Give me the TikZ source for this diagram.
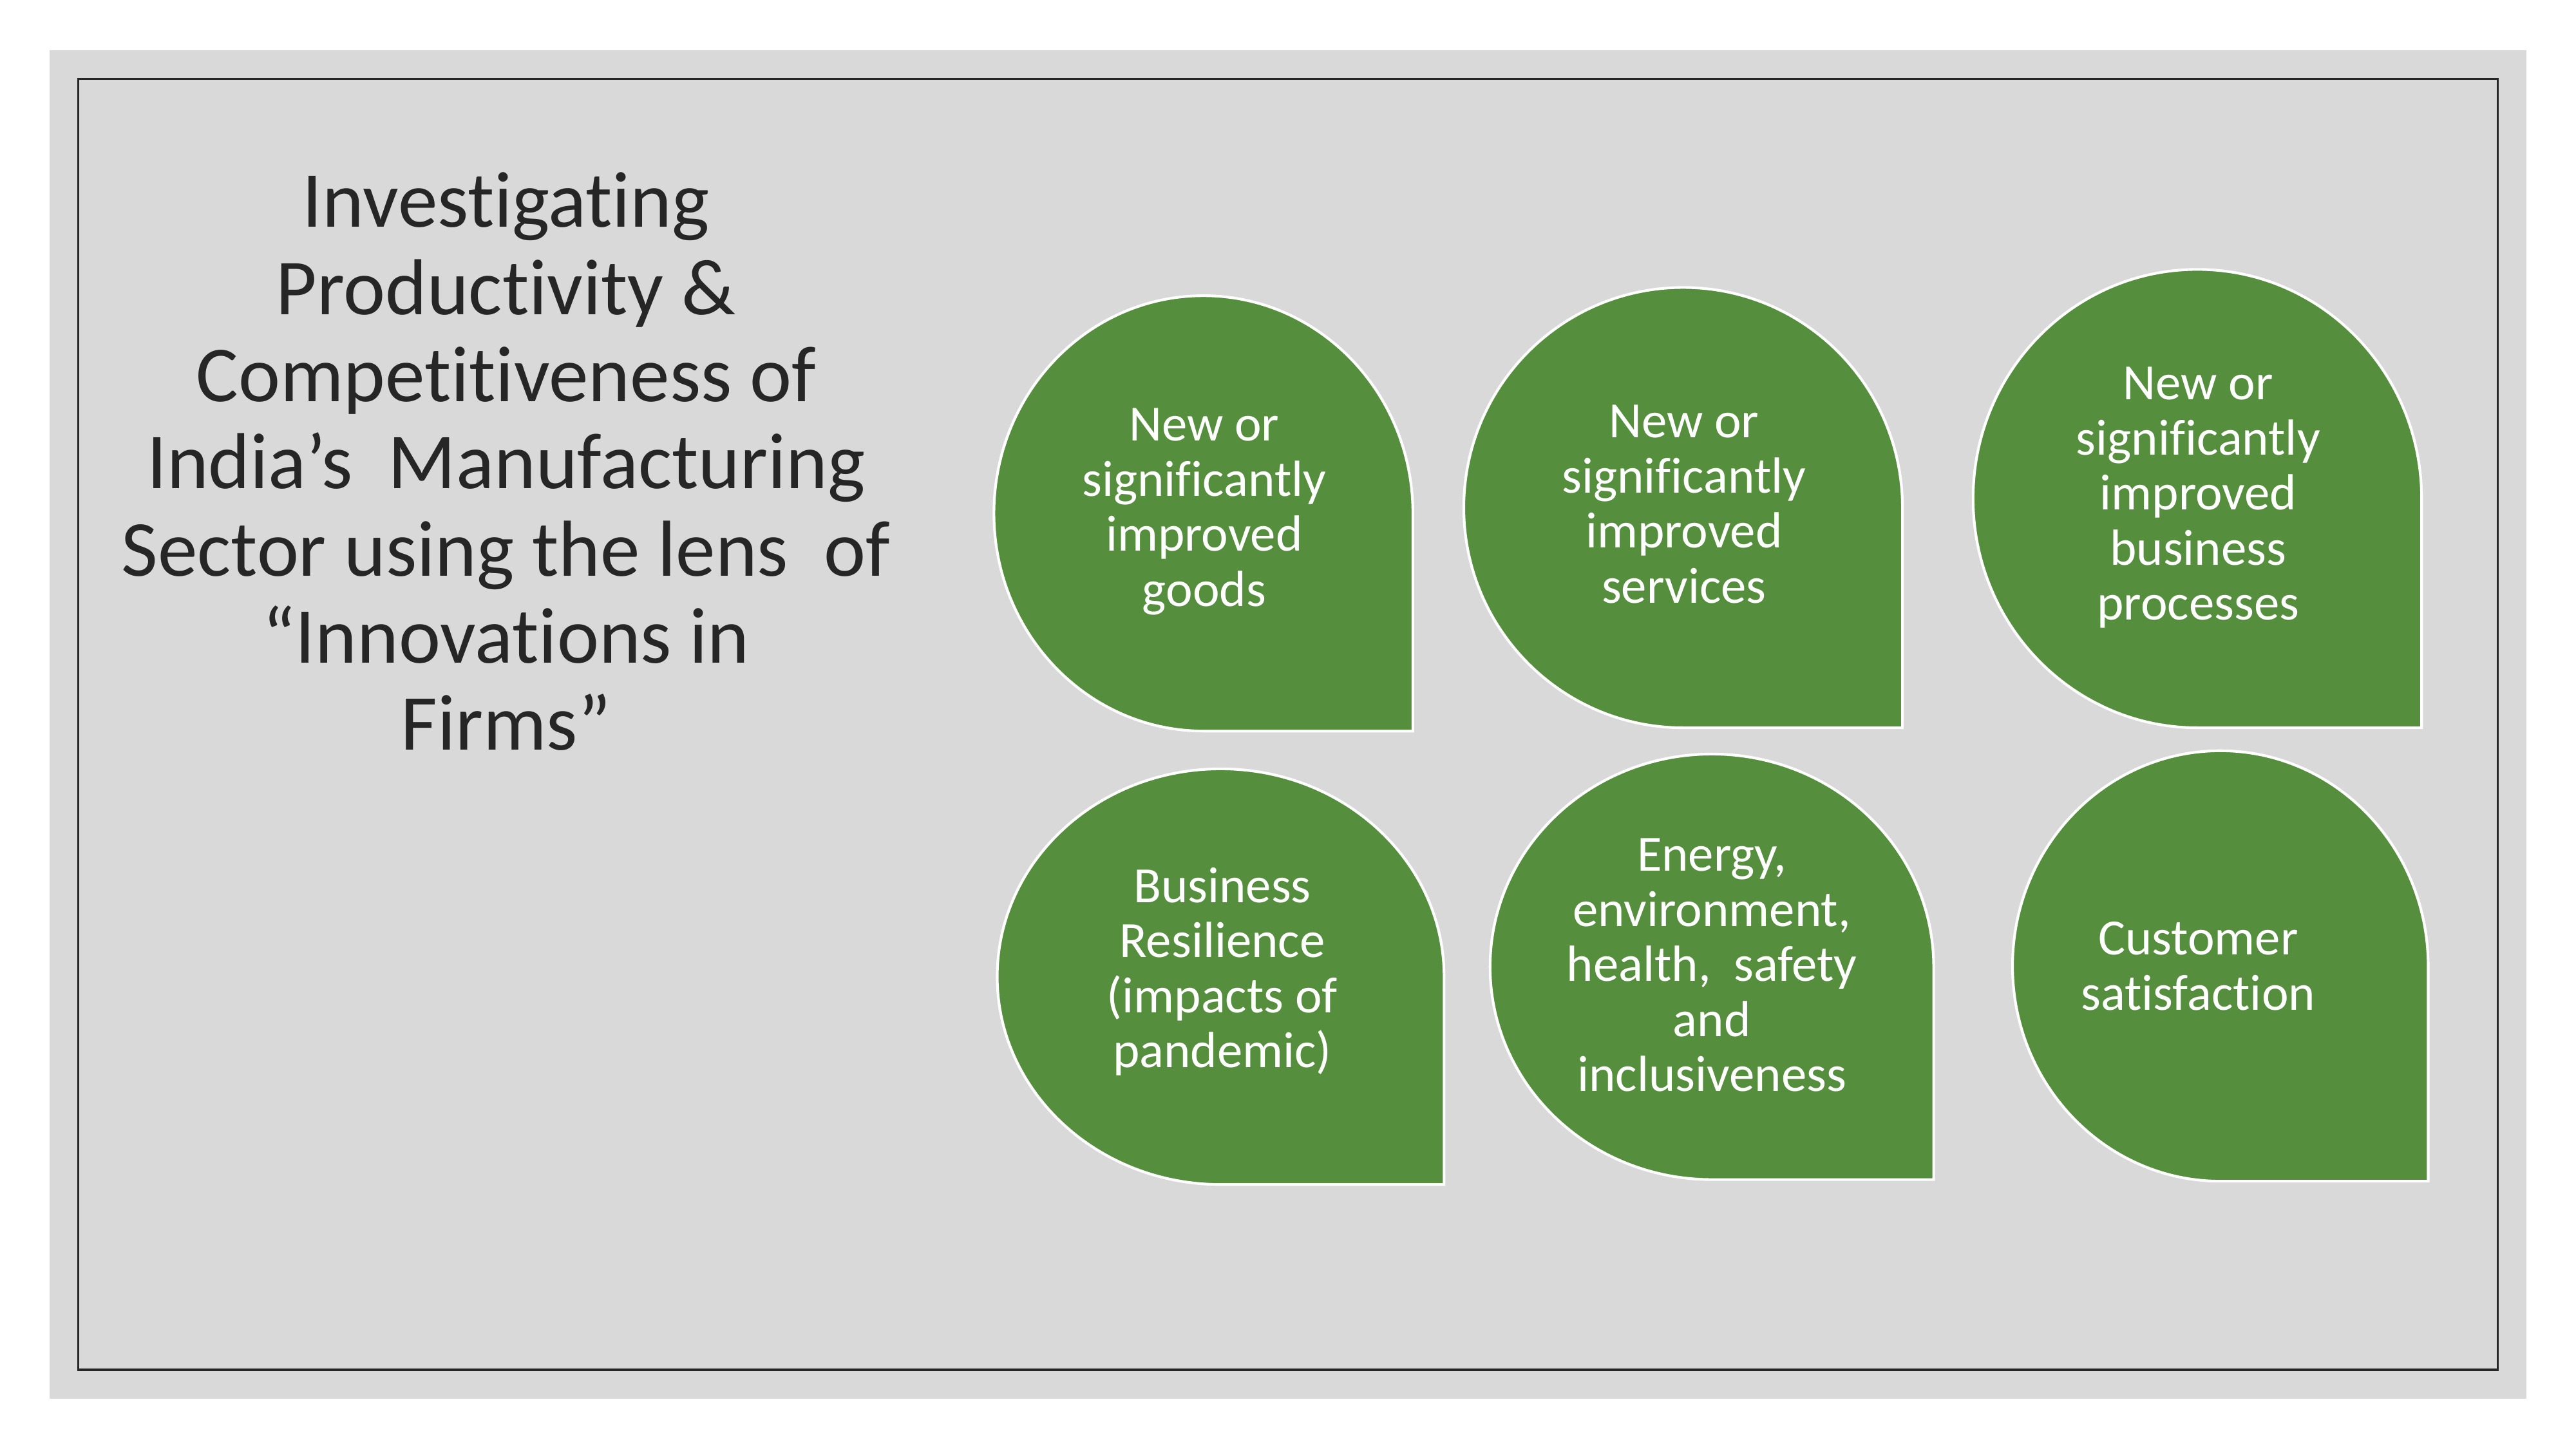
\documentclass[tikz,border=0pt]{standalone}
\usepackage{fontspec}
\setmainfont{Carlito}[RawFeature=-liga]
\usepackage{xcolor}
\usepackage{tikz}
\usetikzlibrary{positioning}

\definecolor{slidegray}{RGB}{217,217,217}
\definecolor{leafgreen}{RGB}{85,142,60}
\definecolor{inkdark}{RGB}{38,38,38}

% leaf: quarter-squared ellipse, args x1, ybottom, x2, ytop
\newcommand{\leafshape}[4]{%
  \draw[leaf] (#3,{(#2+#4)/2})
    arc[start angle=0, end angle=270, x radius={(#3-#1)/2*0.0216cm}, y radius={(#4-#2)/2*0.0216cm}]
    -- (#3,#2) -- cycle;}

\begin{document}
\begin{tikzpicture}[
  x=0.0216cm, y=0.0216cm,
  leaf/.style={fill=leafgreen, draw=white, line width=1pt},
  leaftext/.style={align=center, text=white, inner sep=0pt, font=\fontsize{19}{20.6}\selectfont},
  headline/.style={align=center, text=inkdark, inner sep=0pt, font=\fontsize{29.7}{32.6}\selectfont}
]
\useasboundingbox (0,0) rectangle (1568,882);
\fill[slidegray] (30.2,30.5) rectangle (1537.8,851.4);
\draw[inkdark, line width=0.75pt] (47.8,48.2) rectangle (1520.2,833.8);

% title
\node[headline] (title) at (308,601) {Investigating\\Productivity \&\\Competitiveness of\\India’s\ \ Manufacturing\\Sector using the lens\ \ of\\“Innovations in\\Firms”};

% top row
\leafshape{605}{437}{860}{702}
\leafshape{891}{439}{1158}{707}
\leafshape{1201}{439}{1474}{718}
% bottom row
\leafshape{607}{161}{879}{414}
\leafshape{907}{164}{1177}{423}
\leafshape{1225}{163}{1478}{425}

\node[leaftext] (goods) at (733,570.5) {New or\\significantly\\improved\\goods};
\node[leaftext] (services) at (1025,575) {New or\\significantly\\improved\\services};
\node[leaftext] (processes) at (1338,579) {New or\\significantly\\improved\\business\\processes};
\node[leaftext] (resilience) at (744,290.5) {Business\\Resilience\\(impacts of\\pandemic)};
\node[leaftext] (energy) at (1042,294.5) {Energy,\\environment,\\health,\ \ safety\\and\\inclusiveness};
\node[leaftext] (customer) at (1338,294) {Customer\\satisfaction};
\end{tikzpicture}
\end{document}
